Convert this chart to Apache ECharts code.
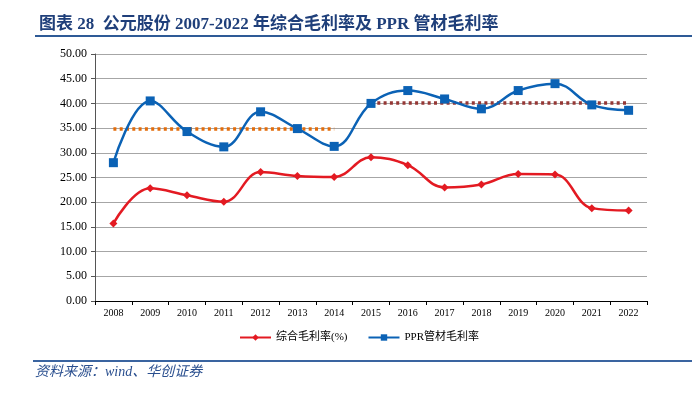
<!DOCTYPE html>
<html>
<head>
<meta charset="utf-8">
<script src="https://cdn.jsdelivr.net/npm/echarts@6/dist/echarts.min.js"></script>
<style>
  html, body { margin: 0; padding: 0; background: #fff; }
  #main { width: 692px; height: 398px; }
</style>
</head>
<body>
<div id="main"></div>
<script>
  // 年份
  var years = ['2008', '2009', '2010', '2011', '2012', '2013', '2014', '2015',
    '2016', '2017', '2018', '2019', '2020', '2021', '2022']
  // 综合毛利率(%)
  var grossMargin = [15.7, 22.8, 21.4, 20.1, 26.1, 25.3, 25.1, 29.1,
    27.5, 23.0, 23.6, 25.7, 25.6, 18.8, 18.3]
  // PPR管材毛利率
  var pprMargin = [28.0, 40.5, 34.3, 31.2, 38.3, 34.9, 31.3, 40.0,
    42.6, 40.9, 38.9, 42.6, 44.0, 39.7, 38.6]
  // 两段均值虚线
  var avgEarly = [34.8, 34.8, 34.8, 34.8, 34.8, 34.8, 34.8, null,
    null, null, null, null, null, null, null]
  var avgLate = [null, null, null, null, null, null, null, 40.1,
    40.1, 40.1, 40.1, 40.1, 40.1, 40.1, 40.1]
  var yTicks = { min: 0, max: 50, interval: 5 }

  var serif = '"Liberation Serif", "Noto Sans CJK SC", serif'
  var chart = echarts.init(document.getElementById('main'))
  chart.setOption({
    animation: false,
    backgroundColor: '#fff',
    title: {
      text: '图表 28  公元股份 2007-2022 年综合毛利率及 PPR 管材毛利率',
      left: 34,
      top: 11,
      textStyle: {
        fontFamily: serif,
        fontSize: 17,
        fontWeight: 'bold',
        color: '#1F3F7A'
      }
    },
    graphic: [
      {
        type: 'line',
        shape: { x1: 35, y1: 36, x2: 692, y2: 36 },
        style: { stroke: '#2E5A96', lineWidth: 2 }
      },
      {
        type: 'line',
        shape: { x1: 33, y1: 361, x2: 692, y2: 361 },
        style: { stroke: '#3A64A0', lineWidth: 2 }
      },
      {
        type: 'text',
        left: 35,
        top: 365,
        style: {
          text: '资料来源：wind、华创证券',
          fontFamily: serif,
          fontSize: 14,
          fontStyle: 'italic',
          fill: '#2A4F8F'
        }
      }
    ],
    legend: {
      bottom: 50,
      left: 234,
      itemWidth: 31,
      itemHeight: 8,
      itemGap: 20,
      textStyle: { fontFamily: serif, fontSize: 11, color: '#000' },
      data: ['综合毛利率(%)', 'PPR管材毛利率']
    },
    grid: {
      left: 95,
      right: 45,
      top: 54,
      bottom: 97
    },
    xAxis: {
      type: 'category',
      data: years,
      boundaryGap: true,
      axisLine: { lineStyle: { color: '#000', width: 1 } },
      axisTick: { show: true, alignWithLabel: false, length: 4, lineStyle: { color: '#000' } },
      axisLabel: { fontFamily: serif, fontSize: 10, color: '#000', margin: 7 }
    },
    yAxis: {
      type: 'value',
      min: yTicks.min,
      max: yTicks.max,
      interval: yTicks.interval,
      axisLine: { show: true, lineStyle: { color: '#555', width: 1 } },
      axisTick: { show: true, length: 4, lineStyle: { color: '#555' } },
      axisLabel: {
        fontFamily: serif,
        fontSize: 12,
        color: '#000',
        margin: 8,
        formatter: function (v) { return v.toFixed(2) }
      },
      splitLine: { show: true, lineStyle: { color: '#A6A6A6', width: 1 } }
    },
    series: [
      {
        name: '综合毛利率(%)',
        type: 'line',
        smooth: 0.4,
        data: grossMargin,
        symbol: 'diamond',
        symbolSize: 8,
        lineStyle: { color: '#E31A22', width: 2.5 },
        itemStyle: { color: '#E31A22' },
        z: 3
      },
      {
        name: 'PPR管材毛利率',
        type: 'line',
        smooth: 0.4,
        data: pprMargin,
        symbol: 'rect',
        symbolSize: 9,
        lineStyle: { color: '#0B62B5', width: 2.5 },
        itemStyle: { color: '#0B62B5' },
        z: 3
      },
      {
        name: 'avgEarly',
        type: 'line',
        data: avgEarly,
        symbol: 'none',
        lineStyle: { color: '#E36C0A', width: 3.5, type: [3, 3.3] },
        z: 2
      },
      {
        name: 'avgLate',
        type: 'line',
        data: avgLate,
        symbol: 'none',
        lineStyle: { color: '#953735', width: 3.5, type: [3, 3.3] },
        z: 2
      }
    ]
  })
</script>
</body>
</html>
